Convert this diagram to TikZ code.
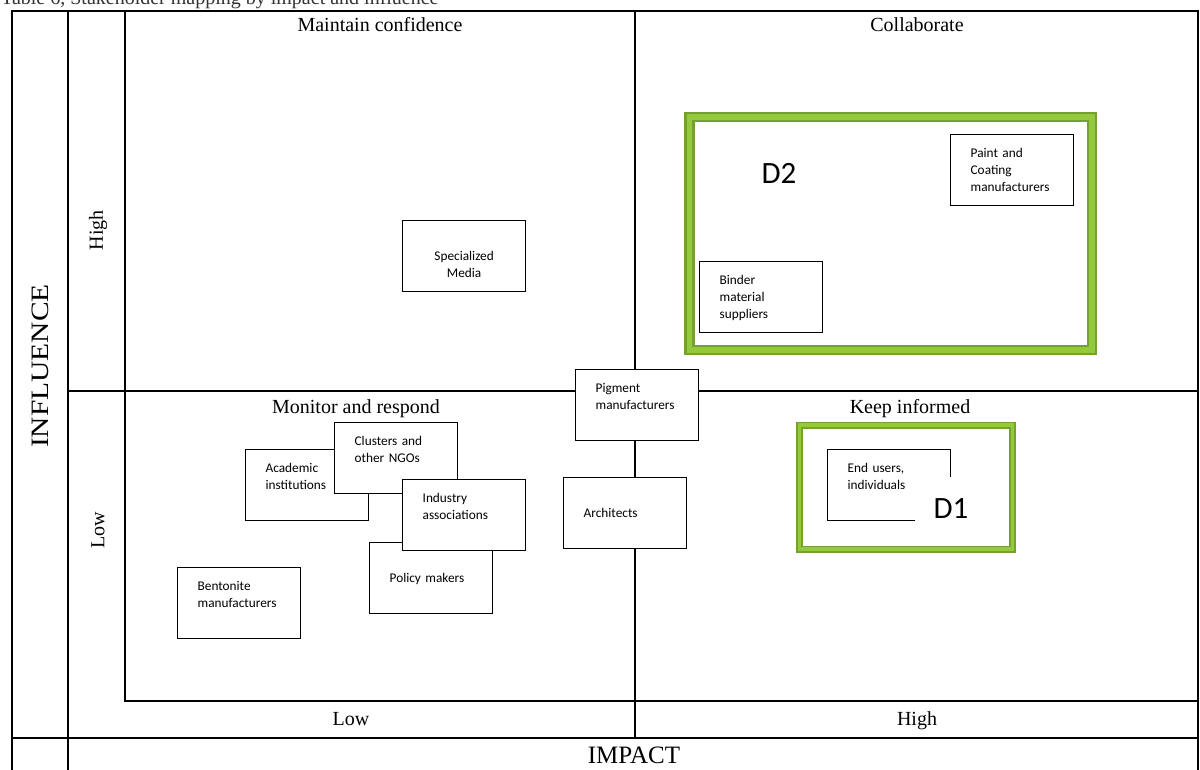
\documentclass[tikz,border=0pt]{standalone}
\usepackage{fontspec}
\setmainfont{Liberation Serif}
\newfontfamily\calibri{Carlito}
\definecolor{gdark}{HTML}{76A02F}
\definecolor{glight}{HTML}{93C83F}
\begin{document}
\begin{tikzpicture}[x=1pt,y=-1pt,
  tbl/.style={line width=2pt, line cap=rect},
  stake/.style={draw, line width=1.3pt, fill=white, anchor=north west,
    minimum width=123pt, minimum height=71pt, inner xsep=20pt, inner ysep=0pt,
    text width=83pt, align=left, text height=23pt, text depth=48pt,
    font=\calibri\fontsize{13.3}{17}\selectfont},
  lowtext/.style={text height=40pt, text depth=31pt},
  head/.style={font=\fontsize{20}{24}\selectfont, inner sep=0pt},
  axislbl/.style={font=\fontsize{25}{30}\selectfont, inner sep=0pt},
  frame/.style={draw=gdark, double=glight, inner sep=0pt},
  dlabel/.style={font=\calibri\fontsize{31}{36}\selectfont, inner sep=0pt}
]
\useasboundingbox (0,0) rectangle (1200,769);
\clip (0,0) rectangle (1200,769);

% caption (cut off at the top, as in the reference)
\node[head, anchor=base west, text=black!80] (caption) at (1,4) {Table 6, Stakeholder mapping by impact and influence};

% table grid
\draw[tbl] (12,11) -- (1198,11);
\draw[tbl] (12,11) -- (12,775);
\draw[tbl] (68,11) -- (68,775);
\draw[tbl] (125,11) -- (125,701) -- (1198,701);
\draw[tbl] (635,11) -- (635,738);
\draw[tbl] (68,391) -- (1198,391);
\draw[tbl] (12,738) -- (1198,738);
\draw[tbl] (1198,11) -- (1198,775);

% headings
\node[head, anchor=base] (qmc) at (380,31) {Maintain confidence};
\node[head, anchor=base] (qcol) at (917,31) {Collaborate};
\node[head, anchor=base] (qmon) at (356,413) {Monitor and respond};
\node[head, anchor=base] (qkeep) at (910,413) {Keep informed};
\node[head, anchor=base] (implow) at (351,725) {Low};
\node[head, anchor=base] (imphigh) at (917,725) {High};
\node[axislbl, anchor=base] (impact) at (634,763) {IMPACT};
\node[axislbl, rotate=90] (influence) at (40,366) {\scalebox{1.18}[1]{INFLUENCE}};
\node[head, rotate=90] (infhigh) at (98,230) {High};
\node[head, rotate=90] (inflow) at (98,530) {Low};

% green frames
\node[frame, line width=2.7pt, double distance=5.2pt, minimum width=402.5pt, minimum height=233pt] (d2frame) at (890.75,233.5) {};
\node[frame, line width=1.8pt, double distance=3.4pt, minimum width=213pt, minimum height=124pt] (d1frame) at (906,487) {};

% stakeholders
\node[stake] (paint) at (950,134) {Paint and\\Coating\\manufacturers};
\node[stake] (binder) at (699,261) {Binder\\material\\suppliers};
\node[stake, lowtext, align=center] (media) at (402,220) {Specialized\\Media};
\node[stake] (pigment) at (575,369) {Pigment\\manufacturers};
\node[stake, lowtext] (architects) at (563,477) {Architects};
\node[stake] (academic) at (245,449) {Academic\\institutions};
\node[stake] (clusters) at (334,422) {Clusters and\\other NGOs};
\node[stake, lowtext] (policy) at (369,542) {Policy makers};
\node[stake] (industry) at (402,479) {Industry\\associations};
\node[stake] (bentonite) at (177,567) {Bentonite\\manufacturers};
\node[stake] (endusers) at (827,449) {End users,\\individuals};

% D labels
\node[dlabel] (d2) at (779,173) {D2};
\node[dlabel, fill=white, minimum width=72pt, minimum height=64pt] (d1) at (951,509) {D1};
\end{tikzpicture}
\end{document}
